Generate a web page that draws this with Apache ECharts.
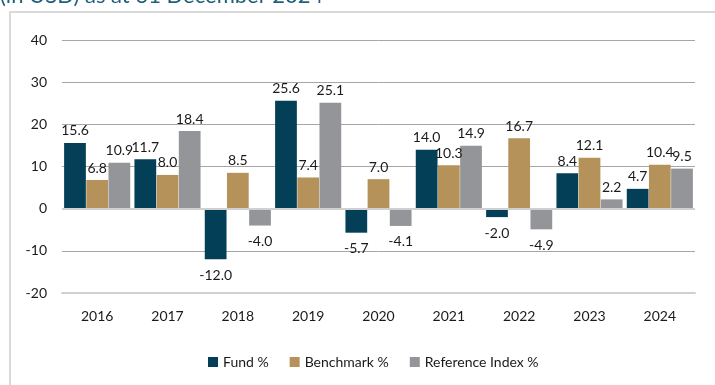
<!DOCTYPE html>
<html>
<head>
<meta charset="utf-8">
<script src="https://cdn.jsdelivr.net/npm/echarts@6/dist/echarts.min.js"></script>
<style>
  html, body { margin: 0; padding: 0; background: #ffffff; }
  #chart { width: 715px; height: 385px; }
</style>
</head>
<body>
<div id="chart"></div>
<script>
// Calendar-year returns (in USD)
const years = ['2016', '2017', '2018', '2019', '2020', '2021', '2022', '2023', '2024'];
const fundReturns = [15.6, 11.7, -12.0, 25.6, -5.7, 14.0, -2.0, 8.4, 4.7];
const benchmarkReturns = [6.8, 8.0, 8.5, 7.4, 7.0, 10.3, 16.7, 12.1, 10.4];
const referenceReturns = [10.9, 18.4, -4.0, 25.1, -4.1, 14.9, -4.9, 2.2, 9.5];
const seriesNames = ['Fund %', 'Benchmark %', 'Reference Index %'];
const yTicks = { min: -20, max: 40, interval: 10 };

const FONT = 'Lato';
const colors = ['#033f57', '#b5925a', '#939598'];

// Value labels sit above positive bars and below negative ones
function withLabels(values) {
  return values.map(v => ({
    value: v,
    label: v < 0 ? { position: 'bottom', distance: 9 } : { position: 'top', distance: 5 }
  }));
}

function barSeries(name, values, color, extra) {
  return Object.assign({
    name: name,
    type: 'bar',
    data: withLabels(values),
    barCategoryGap: '6%',
    barGap: '2%',
    itemStyle: { color: color },
    label: {
      show: true,
      formatter: p => p.value.toFixed(1),
      fontFamily: FONT,
      fontSize: 14,
      color: '#1a1a1a'
    },
    emphasis: { disabled: true }
  }, extra || {});
}

const chart = echarts.init(document.getElementById('chart'), null, { renderer: 'canvas' });

chart.setOption({
  animation: false,
  backgroundColor: '#ffffff',
  color: colors,
  graphic: [
    {
      type: 'text',
      left: 0,
      top: -15,
      style: {
        text: '(in USD) as at 31 December 2024',
        fontFamily: FONT,
        fontSize: 22,
        fill: '#1f5f7a'
      }
    },
    {
      type: 'polyline',
      shape: { points: [[10, 390], [10, 12], [720, 12]] },
      style: { stroke: '#d9d9d9', lineWidth: 2, fill: null }
    }
  ],
  grid: { left: 62, right: 20, top: 40, bottom: 92 },
  legend: {
    data: seriesNames,
    left: 203,
    top: 350,
    icon: 'rect',
    itemWidth: 10,
    itemHeight: 10,
    itemGap: 21,
    textStyle: { fontFamily: FONT, fontSize: 14, color: '#1a1a1a' }
  },
  xAxis: {
    type: 'category',
    data: years,
    axisLine: { onZero: false, lineStyle: { color: '#d0d0d0', width: 2 } },
    axisTick: { show: false },
    axisLabel: { fontFamily: FONT, fontSize: 14, color: '#1a1a1a', margin: 16 }
  },
  yAxis: {
    type: 'value',
    min: yTicks.min,
    max: yTicks.max,
    interval: yTicks.interval,
    axisLine: { show: false },
    axisTick: { show: false },
    axisLabel: { fontFamily: FONT, fontSize: 14, color: '#1a1a1a', margin: 15 },
    splitLine: { lineStyle: { color: '#a6a6a6', width: 1 } }
  },
  series: [
    barSeries(seriesNames[0], fundReturns, colors[0], {
      markLine: {
        silent: true,
        symbol: 'none',
        label: { show: false },
        lineStyle: { color: '#d0d0d0', width: 2, type: 'solid' },
        data: [{ yAxis: 0 }]
      }
    }),
    barSeries(seriesNames[1], benchmarkReturns, colors[1]),
    barSeries(seriesNames[2], referenceReturns, colors[2])
  ]
});
</script>
</body>
</html>
